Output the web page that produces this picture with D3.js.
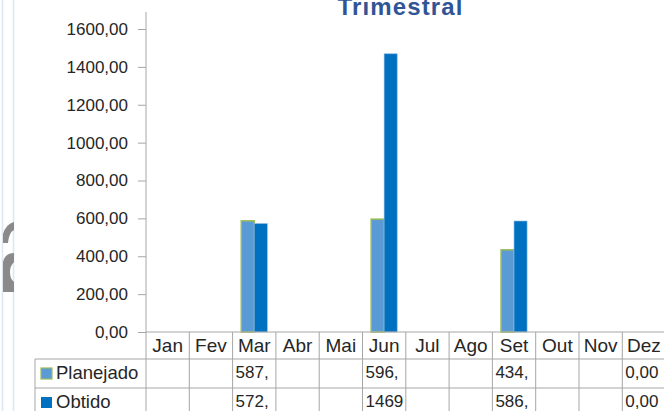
<!DOCTYPE html>
<html>
<head>
<meta charset="utf-8">
<script src="https://cdn.jsdelivr.net/npm/d3@7"></script>
<style>
  body { margin: 0; background: #fff; }
  svg { display: block; font-family: "Liberation Sans", Arial, sans-serif; }
</style>
</head>
<body>
<div id="chart"></div>
<script>
var width = 664, height = 411;

// data
var months = ["Jan", "Fev", "Mar", "Abr", "Mai", "Jun", "Jul", "Ago", "Set", "Out", "Nov", "Dez"];
var series = ["Planejado", "Obtido"];
var planejado = [null, null, 587, null, null, 596, null, null, 434, null, null, 0];
var obtido = [null, null, 572, null, null, 1469, null, null, 586, null, null, 0];
var yTicks = [0, 200, 400, 600, 800, 1000, 1200, 1400, 1600];
var colors = ["#5b9bd5", "#0070c0"];

var svg = d3.select("#chart").append("svg")
  .attr("width", width)
  .attr("height", height);

var ptBR = d3.formatLocale({decimal: ",", thousands: "", grouping: [3], currency: ["", ""]});
var fmt = ptBR.format(".2f");

var x = d3.scaleBand().domain(months).range([146, 146 + 12 * 43.3]);
var xs = d3.scaleBand().domain(series).range([-13, 13]);
var y = d3.scaleLinear().domain([0, 1600]).range([332, 29]);

// window edge decoration
svg.append("line").attr("x1", 2.5).attr("x2", 2.5).attr("y1", 0).attr("y2", height)
  .attr("stroke", "#dce6f4").attr("stroke-width", 1.5);
svg.append("line").attr("x1", 13.5).attr("x2", 13.5).attr("y1", 0).attr("y2", height)
  .attr("stroke", "#dce6f4").attr("stroke-width", 1.5);
svg.append("path").attr("d", "M3,243 L3,234 Q6,224 14,222 L14,230 Q9,232 8,243 Z").attr("fill", "#8a8a8a");
svg.append("path").attr("d", "M3,292 L3,262 Q5,253 14,253 L14,262 Q10,266 10,272 Q10,279 14,282 L14,292 Z").attr("fill", "#8a8a8a");

// title
svg.append("text")
  .text("Trimestral")
  .attr("x", 400)
  .attr("y", 15)
  .attr("text-anchor", "middle")
  .attr("font-size", 24)
  .attr("font-weight", "bold")
  .attr("textLength", 125)
  .attr("fill", "#2f5597");

// y axis
var yAxis = svg.append("g")
  .attr("transform", "translate(146,0)")
  .call(d3.axisLeft(y).tickValues(yTicks).tickFormat(fmt).tickSize(8).tickPadding(10));
yAxis.select(".domain").remove();
yAxis.selectAll("line").attr("stroke", "#a6a6a6");
yAxis.selectAll("text").attr("font-size", 17).attr("fill", "#262626")
  .attr("font-family", "Liberation Sans, Arial, sans-serif");
svg.append("line").attr("x1", 146).attr("x2", 146).attr("y1", 12).attr("y2", 332)
  .attr("stroke", "#a6a6a6");

// bars
var rows = [planejado, obtido];
rows.forEach(function(vals, si) {
  svg.append("g").selectAll("rect")
    .data(months.map(function(m, i) { return {m: m, v: vals[i]}; }).filter(function(d) { return d.v; }))
    .enter().append("rect")
    .attr("x", function(d) { return x(d.m) + x.bandwidth() / 2 + xs(series[si]); })
    .attr("y", function(d) { return y(d.v); })
    .attr("width", xs.bandwidth())
    .attr("height", function(d) { return y(0) - y(d.v); })
    .attr("fill", colors[si])
    .attr("stroke", si == 0 ? "#9bbb59" : "#7fb2e0")
    .attr("stroke-width", si == 0 ? 1.5 : 0.6);
});

// data table
var grid = "#a6a6a6";
var rowY = [332, 359, 388, 417];
svg.append("line").attr("x1", 146).attr("x2", 670).attr("y1", rowY[0]).attr("y2", rowY[0]).attr("stroke", grid);
[1, 2, 3].forEach(function(r) {
  svg.append("line").attr("x1", 35).attr("x2", 670).attr("y1", rowY[r]).attr("y2", rowY[r]).attr("stroke", grid);
});
svg.append("line").attr("x1", 35).attr("x2", 35).attr("y1", rowY[1]).attr("y2", height).attr("stroke", grid);
months.forEach(function(m) {
  svg.append("line").attr("x1", x(m)).attr("x2", x(m)).attr("y1", rowY[0]).attr("y2", height).attr("stroke", grid);
});
svg.append("line").attr("x1", x.range()[1]).attr("x2", x.range()[1]).attr("y1", rowY[0]).attr("y2", height).attr("stroke", grid);

svg.append("g").selectAll("text")
  .data(months).enter().append("text")
  .text(function(d) { return d; })
  .attr("x", function(d) { return x(d) + x.bandwidth() / 2; })
  .attr("y", 352)
  .attr("text-anchor", "middle")
  .attr("font-size", 19)
  .attr("fill", "#262626");

series.forEach(function(s, si) {
  var base = rowY[si + 1];
  svg.append("rect")
    .attr("x", 41).attr("y", base + 9)
    .attr("width", 11).attr("height", 11)
    .attr("fill", colors[si])
    .attr("stroke", si == 0 ? "#9bbb59" : "none")
    .attr("stroke-width", 1.2);
  svg.append("text")
    .text(s)
    .attr("x", 56).attr("y", base + 20)
    .attr("font-size", 18.5)
    .attr("fill", "#262626");
  rows[si].forEach(function(v, i) {
    if (v === null) return;
    var t = svg.append("text")
      .text(fmt(v))
      .attr("x", x(months[i]) + 3)
      .attr("y", base + 19)
      .attr("font-size", 17)
      .attr("fill", "#262626");
    // cut the label the way a narrow table cell does
    var full = fmt(v);
    while (t.node().getComputedTextLength() > x.bandwidth() - 4 && full.length > 1) {
      full = full.slice(0, -1);
      t.text(full);
    }
  });
});
</script>
</body>
</html>
